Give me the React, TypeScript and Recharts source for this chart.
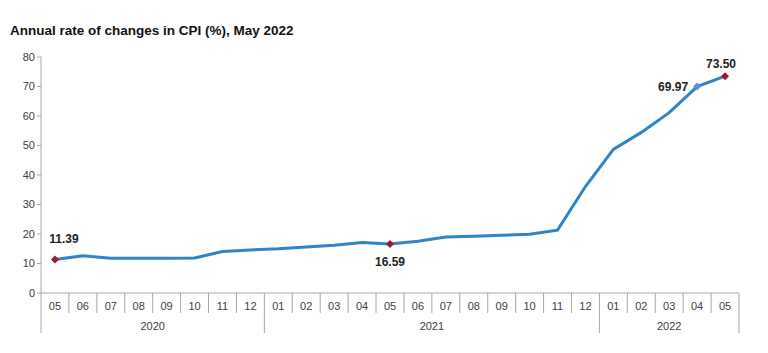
import { LineChart, Line, XAxis, YAxis } from 'recharts'

const months = ['05', '06', '07', '08', '09', '10', '11', '12', '01', '02', '03', '04', '05', '06', '07', '08', '09', '10', '11', '12', '01', '02', '03', '04', '05']
const years = ['2020', '2020', '2020', '2020', '2020', '2020', '2020', '2020', '2021', '2021', '2021', '2021', '2021', '2021', '2021', '2021', '2021', '2021', '2021', '2021', '2022', '2022', '2022', '2022', '2022']
const cpi = [11.39, 12.62, 11.76, 11.77, 11.75, 11.89, 14.03, 14.6, 14.97, 15.61, 16.19, 17.14, 16.59, 17.53, 18.95, 19.25, 19.58, 19.89, 21.31, 36.08, 48.69, 54.44, 61.14, 69.97, 73.5]
const yTicks = [0, 10, 20, 30, 40, 50, 60, 70, 80]

// which points get a marker + label, and where the label sits
const marked: Record<number, { color: string; pos: 'top' | 'bottom' | 'left' }> = {
  0: { color: '#9b1b30', pos: 'top' },
  12: { color: '#9b1b30', pos: 'bottom' },
  23: { color: '#5b8fd0', pos: 'left' },
  24: { color: '#9b1b30', pos: 'top' },
}

const data = months.map((m, i) => ({ key: `${years[i]}-${m}-${i}`, month: m, year: years[i], value: cpi[i] }))

const AXIS = '#a6a6a6'
const TEXT = '#404040'

const MonthTick = (props: any) => {
  const { x, y, payload, index } = props
  const half = payload?.offset ?? 14
  const i = index as number
  const top = y - 8
  const prev = i > 0 ? years[i - 1] : null
  const yearStart = prev !== years[i]
  const last = i === years.length - 1
  // centre of the year group
  const groupIdx = years.map((yr, k) => (yr === years[i] ? k : -1)).filter(k => k >= 0)
  const first = groupIdx[0]
  const end = groupIdx[groupIdx.length - 1]
  const midPos = (first + end) / 2
  let yearLabel = null
  if (Math.floor(midPos) === i) {
    const dx = midPos === i ? 0 : half
    yearLabel = (
      <text x={x + dx} y={top + 37} textAnchor="middle" fontSize={11} fill={TEXT}>{years[i]}</text>
    )
  }
  return (
    <g>
      <line x1={x - half} x2={x - half} y1={top} y2={yearStart ? top + 40 : top + 20} stroke={AXIS} strokeWidth={1} />
      {last && <line x1={x + half} x2={x + half} y1={top} y2={top + 40} stroke={AXIS} strokeWidth={1} />}
      <text x={x} y={top + 17} textAnchor="middle" fontSize={11} fill={TEXT}>{months[i]}</text>
      {yearLabel}
    </g>
  )
}

const Marker = (props: any) => {
  const { cx, cy, index, payload } = props
  const m = marked[index]
  if (!m) return <g key={`d-${index}`} />
  const r = 4
  let lx = cx, ly = cy - 12, anchor: 'middle' | 'end' = 'middle'
  if (index === 0) { lx = cx + 9; ly = cy - 16 }
  if (m.pos === 'bottom') ly = cy + 22
  if (m.pos === 'left') { lx = cx - 9; ly = cy + 4; anchor = 'end' }
  if (index === 24) { lx = cx - 4; ly = cy - 8 }
  return (
    <g key={`d-${index}`}>
      <path d={`M${cx},${cy - r} L${cx + r},${cy} L${cx},${cy + r} L${cx - r},${cy} Z`} fill={m.color} />
      <text x={lx} y={ly} textAnchor={anchor} fontSize={12} fontWeight="bold" fill="#222">{payload.value.toFixed(2)}</text>
    </g>
  )
}

export default function App() {
  return (
    <div style={{ position: 'relative', width: 768, height: 353, background: '#fff', fontFamily: '"Liberation Sans", Arial, sans-serif' }}>
      <style>{'body{margin:0}'}</style>
      <div style={{ position: 'absolute', left: 10, top: 23, fontSize: 13.5, fontWeight: 'bold', color: '#111' }}>
        Annual rate of changes in CPI (%), May 2022
      </div>
      <LineChart width={768} height={353} data={data} margin={{ top: 57, right: 29, bottom: 0, left: 11 }}>
        <XAxis dataKey="key" type="category" scale="band" interval={0} axisLine={{ stroke: AXIS }} tickLine={false} height={60}
          tick={<MonthTick />} />
        <YAxis domain={[0, 80]} ticks={yTicks} interval={0} width={30} axisLine={{ stroke: AXIS }}
          tickLine={{ stroke: AXIS }} tickSize={4} tick={{ fill: TEXT, fontSize: 11 }} />
        <Line type="linear" dataKey="value" stroke="#2f84c6" strokeWidth={3} dot={<Marker />} activeDot={false} isAnimationActive={false} />
      </LineChart>
    </div>
  )
}
